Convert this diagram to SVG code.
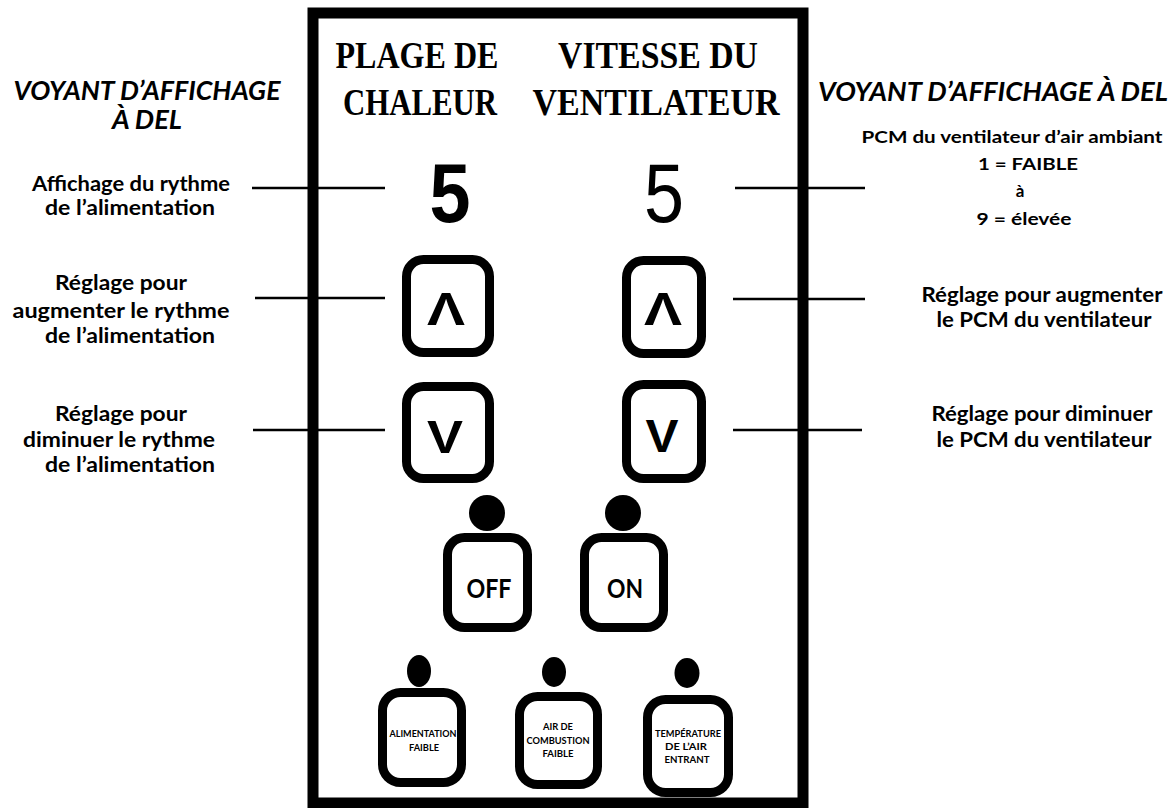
<svg xmlns="http://www.w3.org/2000/svg" width="1174" height="808" viewBox="0 0 1174 808">
<style>
.bg{fill:#fff}
.panel{fill:none;stroke:#000;stroke-width:11}
.btn{fill:#fff;stroke:#000;stroke-width:9}
.dot{fill:#000}
.ser{font-family:"Liberation Serif","Times New Roman",serif;font-weight:bold;font-size:38px;fill:#000;text-anchor:middle}
.ttl{font-family:Lato,"Liberation Sans",sans-serif;font-weight:bold;font-style:italic;font-size:26px;fill:#000;text-anchor:middle}
.lbl{font-family:Lato,"Liberation Sans",sans-serif;font-weight:bold;font-size:21px;fill:#000;text-anchor:middle}
.lbs{font-family:Lato,"Liberation Sans",sans-serif;font-weight:bold;font-size:17px;fill:#000;text-anchor:middle}
.dig{font-family:"Liberation Sans",Arial,sans-serif;font-size:84px;fill:#000;text-anchor:middle}
.gly{font-family:"Liberation Sans",Arial,sans-serif;font-weight:bold;font-size:46px;fill:#000;text-anchor:middle}
.bt{font-family:Lato,"Liberation Sans",sans-serif;font-weight:bold;font-size:27px;fill:#000;text-anchor:middle}
.tiny{font-family:Lato,"Liberation Sans",sans-serif;font-weight:bold;font-size:10px;fill:#000;text-anchor:middle}
.con{stroke:#000;stroke-width:2.5;fill:none}
</style>
<rect class="bg" x="0" y="0" width="1174" height="808"/>
<g id="panel">
<rect class="panel" x="313" y="13" width="490" height="790"/>
</g>
<g id="title-plage">
<text class="ser" x="417" y="68" textLength="163" lengthAdjust="spacingAndGlyphs">PLAGE DE</text>
<text class="ser" x="420" y="115" textLength="154" lengthAdjust="spacingAndGlyphs">CHALEUR</text>
</g>
<g id="title-vitesse">
<text class="ser" x="658" y="68" textLength="200" lengthAdjust="spacingAndGlyphs">VITESSE DU</text>
<text class="ser" x="656" y="115" textLength="247" lengthAdjust="spacingAndGlyphs">VENTILATEUR</text>
</g>
<g id="title-left">
<text class="ttl" x="147" y="100" textLength="267" lengthAdjust="spacingAndGlyphs">VOYANT D’AFFICHAGE</text>
<text class="ttl" x="147" y="129" textLength="70" lengthAdjust="spacingAndGlyphs">À DEL</text>
</g>
<g id="title-right">
<text class="ttl" x="993" y="101" textLength="350" lengthAdjust="spacingAndGlyphs">VOYANT D’AFFICHAGE À DEL</text>
</g>
<g id="label-affichage">
<text class="lbl" x="131" y="191" textLength="198" lengthAdjust="spacingAndGlyphs">Affichage du rythme</text>
<text class="lbl" x="130" y="215" textLength="170" lengthAdjust="spacingAndGlyphs">de l’alimentation</text>
</g>
<g id="label-augmenter-left">
<text class="lbl" x="121" y="290" textLength="132" lengthAdjust="spacingAndGlyphs">Réglage pour</text>
<text class="lbl" x="121" y="318" textLength="217" lengthAdjust="spacingAndGlyphs">augmenter le rythme</text>
<text class="lbl" x="130" y="343" textLength="170" lengthAdjust="spacingAndGlyphs">de l’alimentation</text>
</g>
<g id="label-diminuer-left">
<text class="lbl" x="121" y="421" textLength="132" lengthAdjust="spacingAndGlyphs">Réglage pour</text>
<text class="lbl" x="119" y="447" textLength="192" lengthAdjust="spacingAndGlyphs">diminuer le rythme</text>
<text class="lbl" x="130" y="472" textLength="170" lengthAdjust="spacingAndGlyphs">de l’alimentation</text>
</g>
<g id="label-pcm">
<text class="lbs" x="1012" y="143" textLength="301" lengthAdjust="spacingAndGlyphs">PCM du ventilateur d’air ambiant</text>
<text class="lbs" x="1028" y="170" textLength="100" lengthAdjust="spacingAndGlyphs">1 = FAIBLE</text>
<text class="lbs" x="1020" y="197">à</text>
<text class="lbs" x="1024" y="225" textLength="95" lengthAdjust="spacingAndGlyphs">9 =  élevée</text>
</g>
<g id="label-augmenter-right">
<text class="lbl" x="1042" y="302" textLength="241" lengthAdjust="spacingAndGlyphs">Réglage pour augmenter</text>
<text class="lbl" x="1044" y="327" textLength="215" lengthAdjust="spacingAndGlyphs">le PCM du ventilateur</text>
</g>
<g id="label-diminuer-right">
<text class="lbl" x="1042" y="421" textLength="221" lengthAdjust="spacingAndGlyphs">Réglage pour diminuer</text>
<text class="lbl" x="1044" y="447" textLength="215" lengthAdjust="spacingAndGlyphs">le PCM du ventilateur</text>
</g>
<g id="display-left">
<text class="dig" x="450" y="222" font-weight="bold" textLength="41" lengthAdjust="spacingAndGlyphs">5</text>
</g>
<g id="display-right">
<text class="dig" x="664" y="222" textLength="40" lengthAdjust="spacingAndGlyphs">5</text>
</g>
<g id="btn-up-left">
<rect class="btn" x="406.5" y="259.5" width="83" height="93" rx="17"/>
<text class="gly" x="446" y="325" textLength="38" lengthAdjust="spacingAndGlyphs">Λ</text>
</g>
<g id="btn-down-left">
<rect class="btn" x="406.5" y="386.5" width="83" height="92" rx="17"/>
<text class="gly" x="445" y="453" textLength="36" lengthAdjust="spacingAndGlyphs">V</text>
</g>
<g id="btn-up-right">
<rect class="btn" x="626.5" y="260.5" width="75" height="93" rx="17"/>
<text class="gly" x="663" y="325" textLength="38" lengthAdjust="spacingAndGlyphs">Λ</text>
</g>
<g id="btn-down-right">
<rect class="btn" x="626.5" y="384.5" width="75" height="94" rx="17"/>
<text class="gly" x="662" y="452" textLength="33" lengthAdjust="spacingAndGlyphs">V</text>
</g>
<g id="btn-off">
<circle class="dot" cx="487" cy="513" r="18"/>
<rect class="btn" x="447.5" y="537.5" width="80" height="90" rx="17"/>
<text class="bt" x="489" y="598" textLength="45" lengthAdjust="spacingAndGlyphs">OFF</text>
</g>
<g id="btn-on">
<circle class="dot" cx="623" cy="513" r="18"/>
<rect class="btn" x="584.5" y="537.5" width="79" height="90" rx="17"/>
<text class="bt" x="625" y="598" textLength="36" lengthAdjust="spacingAndGlyphs">ON</text>
</g>
<g id="led-alimentation">
<ellipse class="dot" cx="419" cy="671" rx="12" ry="16"/>
<rect class="btn" x="382.5" y="692.5" width="79" height="90" rx="18"/>
<text class="tiny" x="423" y="737" textLength="67" lengthAdjust="spacingAndGlyphs">ALIMENTATION</text>
<text class="tiny" x="424" y="751" textLength="30" lengthAdjust="spacingAndGlyphs">FAIBLE</text>
</g>
<g id="led-combustion">
<ellipse class="dot" cx="554" cy="672" rx="12" ry="15"/>
<rect class="btn" x="519.5" y="696.5" width="78" height="88" rx="18"/>
<text class="tiny" x="558" y="730" textLength="30" lengthAdjust="spacingAndGlyphs">AIR DE</text>
<text class="tiny" x="558" y="744" textLength="63" lengthAdjust="spacingAndGlyphs">COMBUSTION</text>
<text class="tiny" x="558" y="757" textLength="31" lengthAdjust="spacingAndGlyphs">FAIBLE</text>
</g>
<g id="led-temperature">
<ellipse class="dot" cx="687" cy="673" rx="12.5" ry="15"/>
<rect class="btn" x="647.5" y="699.5" width="81" height="93" rx="18"/>
<text class="tiny" x="688" y="737" textLength="66" lengthAdjust="spacingAndGlyphs">TEMPÉRATURE</text>
<text class="tiny" x="686" y="750" textLength="42" lengthAdjust="spacingAndGlyphs">DE L’AIR</text>
<text class="tiny" x="687" y="763" textLength="45" lengthAdjust="spacingAndGlyphs">ENTRANT</text>
</g>
<g id="connectors">
<line class="con" x1="252" y1="188" x2="385" y2="188"/>
<line class="con" x1="255" y1="298" x2="385" y2="298"/>
<line class="con" x1="253" y1="430" x2="385" y2="430"/>
<line class="con" x1="735" y1="188" x2="865" y2="188"/>
<line class="con" x1="733" y1="299" x2="865" y2="299"/>
<line class="con" x1="733" y1="430" x2="862" y2="430"/>
</g>
</svg>
